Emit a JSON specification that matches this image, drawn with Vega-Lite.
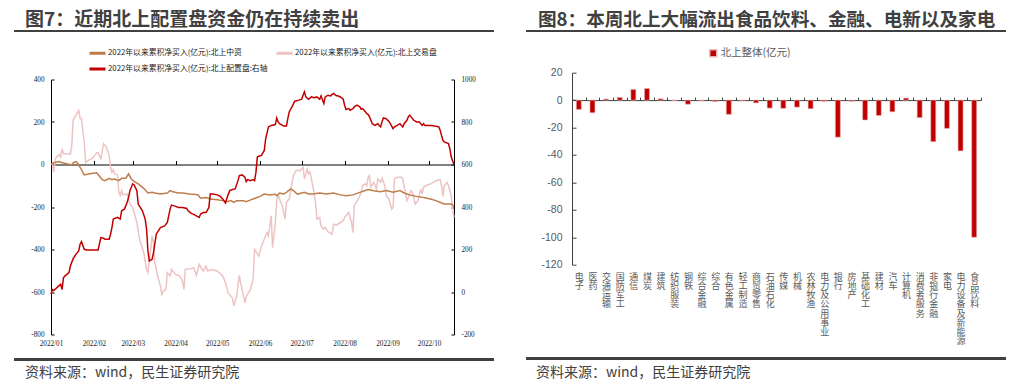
{
"$schema": "https://vega.github.io/schema/vega-lite/v6.json",
"background": "white",
"padding": {"left": 12, "top": 0, "right": 9, "bottom": 0},
"config": {"view": {"stroke": "transparent"}, "font": "Noto Sans CJK SC", "axis": {"grid": false, "domainWidth": 1, "tickWidth": 1}, "legend": {"padding": 0}},
"datasets": {
"zz": [
{"date":"2022-01-01","value":0},{"date":"2022-01-03","value":8},{"date":"2022-01-07","value":14},{"date":"2022-01-09","value":8},{"date":"2022-01-13","value":3},{"date":"2022-01-16","value":-2},{"date":"2022-01-17","value":8},{"date":"2022-01-19","value":14},{"date":"2022-01-20","value":8},{"date":"2022-01-22","value":-13},{"date":"2022-01-25","value":-49},{"date":"2022-01-29","value":-44},{"date":"2022-02-03","value":-39},{"date":"2022-02-04","value":-47},{"date":"2022-02-07","value":-71},{"date":"2022-02-09","value":-76},{"date":"2022-02-12","value":-65},{"date":"2022-02-14","value":-71},{"date":"2022-02-16","value":-68},{"date":"2022-02-19","value":-76},{"date":"2022-02-21","value":-65},{"date":"2022-02-24","value":-65},{"date":"2022-02-26","value":-44},{"date":"2022-02-28","value":-68},{"date":"2022-03-02","value":-80},{"date":"2022-03-05","value":-91},{"date":"2022-03-09","value":-112},{"date":"2022-03-12","value":-134},{"date":"2022-03-15","value":-131},{"date":"2022-03-17","value":-134},{"date":"2022-03-21","value":-139},{"date":"2022-03-26","value":-134},{"date":"2022-03-28","value":-123},{"date":"2022-03-30","value":-128},{"date":"2022-04-03","value":-134},{"date":"2022-04-06","value":-134},{"date":"2022-04-11","value":-139},{"date":"2022-04-17","value":-142},{"date":"2022-04-19","value":-159},{"date":"2022-04-23","value":-155},{"date":"2022-04-26","value":-162},{"date":"2022-05-01","value":-166},{"date":"2022-05-05","value":-170},{"date":"2022-05-08","value":-175},{"date":"2022-05-11","value":-170},{"date":"2022-05-13","value":-178},{"date":"2022-05-15","value":-170},{"date":"2022-05-20","value":-170},{"date":"2022-05-22","value":-175},{"date":"2022-05-27","value":-162},{"date":"2022-06-01","value":-150},{"date":"2022-06-04","value":-139},{"date":"2022-06-08","value":-143},{"date":"2022-06-12","value":-140},{"date":"2022-06-13","value":-147},{"date":"2022-06-15","value":-134},{"date":"2022-06-18","value":-139},{"date":"2022-06-20","value":-131},{"date":"2022-06-23","value":-115},{"date":"2022-06-25","value":-123},{"date":"2022-06-28","value":-140},{"date":"2022-07-01","value":-134},{"date":"2022-07-03","value":-131},{"date":"2022-07-06","value":-139},{"date":"2022-07-09","value":-139},{"date":"2022-07-14","value":-134},{"date":"2022-07-19","value":-139},{"date":"2022-07-24","value":-134},{"date":"2022-07-29","value":-143},{"date":"2022-08-02","value":-147},{"date":"2022-08-07","value":-143},{"date":"2022-08-12","value":-131},{"date":"2022-08-18","value":-118},{"date":"2022-08-22","value":-123},{"date":"2022-08-27","value":-128},{"date":"2022-08-31","value":-123},{"date":"2022-09-05","value":-131},{"date":"2022-09-10","value":-123},{"date":"2022-09-13","value":-134},{"date":"2022-09-17","value":-143},{"date":"2022-09-22","value":-150},{"date":"2022-09-27","value":-155},{"date":"2022-10-02","value":-162},{"date":"2022-10-06","value":-170},{"date":"2022-10-10","value":-181},{"date":"2022-10-12","value":-186},{"date":"2022-10-17","value":-186},{"date":"2022-10-19","value":-197}
],
"jy": [
{"date":"2022-01-01","value":0},{"date":"2022-01-02","value":3},{"date":"2022-01-03","value":-36},{"date":"2022-01-04","value":24},{"date":"2022-01-05","value":35},{"date":"2022-01-07","value":46},{"date":"2022-01-08","value":35},{"date":"2022-01-09","value":74},{"date":"2022-01-10","value":51},{"date":"2022-01-13","value":51},{"date":"2022-01-15","value":49},{"date":"2022-01-16","value":90},{"date":"2022-01-17","value":208},{"date":"2022-01-19","value":232},{"date":"2022-01-20","value":244},{"date":"2022-01-21","value":255},{"date":"2022-01-22","value":216},{"date":"2022-01-23","value":216},{"date":"2022-01-25","value":106},{"date":"2022-01-26","value":8},{"date":"2022-01-28","value":19},{"date":"2022-01-31","value":30},{"date":"2022-02-03","value":55},{"date":"2022-02-04","value":55},{"date":"2022-02-06","value":27},{"date":"2022-02-08","value":98},{"date":"2022-02-10","value":82},{"date":"2022-02-12","value":43},{"date":"2022-02-13","value":-13},{"date":"2022-02-14","value":-36},{"date":"2022-02-15","value":-24},{"date":"2022-02-16","value":-44},{"date":"2022-02-18","value":-49},{"date":"2022-02-19","value":-131},{"date":"2022-02-20","value":-147},{"date":"2022-02-21","value":-123},{"date":"2022-02-22","value":-143},{"date":"2022-02-25","value":-139},{"date":"2022-02-27","value":-186},{"date":"2022-03-01","value":-202},{"date":"2022-03-02","value":-225},{"date":"2022-03-04","value":-273},{"date":"2022-03-06","value":-352},{"date":"2022-03-09","value":-415},{"date":"2022-03-11","value":-494},{"date":"2022-03-12","value":-509},{"date":"2022-03-14","value":-399},{"date":"2022-03-15","value":-336},{"date":"2022-03-16","value":-367},{"date":"2022-03-17","value":-462},{"date":"2022-03-19","value":-525},{"date":"2022-03-21","value":-572},{"date":"2022-03-22","value":-612},{"date":"2022-03-23","value":-596},{"date":"2022-03-25","value":-588},{"date":"2022-03-26","value":-509},{"date":"2022-03-28","value":-525},{"date":"2022-03-29","value":-494},{"date":"2022-04-01","value":-517},{"date":"2022-04-04","value":-525},{"date":"2022-04-06","value":-549},{"date":"2022-04-07","value":-588},{"date":"2022-04-08","value":-494},{"date":"2022-04-12","value":-490},{"date":"2022-04-14","value":-486},{"date":"2022-04-16","value":-522},{"date":"2022-04-18","value":-470},{"date":"2022-04-20","value":-494},{"date":"2022-04-21","value":-501},{"date":"2022-04-23","value":-478},{"date":"2022-04-24","value":-501},{"date":"2022-04-27","value":-494},{"date":"2022-05-01","value":-501},{"date":"2022-05-05","value":-525},{"date":"2022-05-07","value":-557},{"date":"2022-05-09","value":-604},{"date":"2022-05-12","value":-628},{"date":"2022-05-13","value":-667},{"date":"2022-05-15","value":-620},{"date":"2022-05-17","value":-522},{"date":"2022-05-18","value":-557},{"date":"2022-05-21","value":-651},{"date":"2022-05-22","value":-620},{"date":"2022-05-25","value":-588},{"date":"2022-05-27","value":-538},{"date":"2022-05-28","value":-399},{"date":"2022-05-31","value":-430},{"date":"2022-06-02","value":-383},{"date":"2022-06-04","value":-352},{"date":"2022-06-06","value":-320},{"date":"2022-06-07","value":-336},{"date":"2022-06-09","value":-241},{"date":"2022-06-10","value":-391},{"date":"2022-06-12","value":-273},{"date":"2022-06-13","value":-170},{"date":"2022-06-14","value":-139},{"date":"2022-06-15","value":-162},{"date":"2022-06-17","value":-194},{"date":"2022-06-19","value":-257},{"date":"2022-06-20","value":-178},{"date":"2022-06-22","value":-162},{"date":"2022-06-25","value":-52},{"date":"2022-06-27","value":-28},{"date":"2022-06-30","value":-28},{"date":"2022-07-02","value":-13},{"date":"2022-07-03","value":-68},{"date":"2022-07-05","value":-20},{"date":"2022-07-06","value":-44},{"date":"2022-07-07","value":-36},{"date":"2022-07-09","value":-99},{"date":"2022-07-11","value":-178},{"date":"2022-07-12","value":-257},{"date":"2022-07-14","value":-249},{"date":"2022-07-15","value":-289},{"date":"2022-07-17","value":-304},{"date":"2022-07-18","value":-296},{"date":"2022-07-20","value":-317},{"date":"2022-07-21","value":-320},{"date":"2022-07-23","value":-328},{"date":"2022-07-24","value":-281},{"date":"2022-07-26","value":-285},{"date":"2022-07-29","value":-273},{"date":"2022-07-31","value":-265},{"date":"2022-08-01","value":-249},{"date":"2022-08-04","value":-225},{"date":"2022-08-06","value":-273},{"date":"2022-08-07","value":-320},{"date":"2022-08-08","value":-194},{"date":"2022-08-11","value":-162},{"date":"2022-08-13","value":-131},{"date":"2022-08-14","value":-99},{"date":"2022-08-16","value":-91},{"date":"2022-08-17","value":-99},{"date":"2022-08-18","value":-60},{"date":"2022-08-19","value":-52},{"date":"2022-08-20","value":-107},{"date":"2022-08-22","value":-84},{"date":"2022-08-23","value":-99},{"date":"2022-08-24","value":-115},{"date":"2022-08-25","value":-68},{"date":"2022-08-27","value":-84},{"date":"2022-08-28","value":-65},{"date":"2022-08-30","value":-99},{"date":"2022-08-31","value":-147},{"date":"2022-09-02","value":-162},{"date":"2022-09-03","value":-186},{"date":"2022-09-04","value":-210},{"date":"2022-09-05","value":-202},{"date":"2022-09-06","value":-68},{"date":"2022-09-08","value":-60},{"date":"2022-09-09","value":-60},{"date":"2022-09-11","value":-60},{"date":"2022-09-12","value":-68},{"date":"2022-09-15","value":-170},{"date":"2022-09-16","value":-155},{"date":"2022-09-18","value":-123},{"date":"2022-09-19","value":-131},{"date":"2022-09-21","value":-186},{"date":"2022-09-23","value":-170},{"date":"2022-09-25","value":-115},{"date":"2022-09-26","value":-139},{"date":"2022-09-27","value":-107},{"date":"2022-09-29","value":-99},{"date":"2022-10-02","value":-91},{"date":"2022-10-04","value":-84},{"date":"2022-10-06","value":-76},{"date":"2022-10-09","value":-71},{"date":"2022-10-10","value":-99},{"date":"2022-10-11","value":-150},{"date":"2022-10-12","value":-99},{"date":"2022-10-14","value":-84},{"date":"2022-10-15","value":-99},{"date":"2022-10-17","value":-147},{"date":"2022-10-18","value":-210},{"date":"2022-10-19","value":-249}
],
"pz": [
{"date":"2022-01-01","value":-10},{"date":"2022-01-02","value":12},{"date":"2022-01-03","value":7},{"date":"2022-01-07","value":31},{"date":"2022-01-08","value":36},{"date":"2022-01-09","value":12},{"date":"2022-01-10","value":67},{"date":"2022-01-11","value":75},{"date":"2022-01-14","value":91},{"date":"2022-01-15","value":122},{"date":"2022-01-17","value":157},{"date":"2022-01-19","value":177},{"date":"2022-01-21","value":193},{"date":"2022-01-22","value":225},{"date":"2022-01-23","value":237},{"date":"2022-01-25","value":201},{"date":"2022-01-27","value":198},{"date":"2022-02-04","value":198},{"date":"2022-02-06","value":256},{"date":"2022-02-08","value":253},{"date":"2022-02-09","value":248},{"date":"2022-02-12","value":248},{"date":"2022-02-13","value":272},{"date":"2022-02-14","value":303},{"date":"2022-02-15","value":343},{"date":"2022-02-18","value":351},{"date":"2022-02-20","value":343},{"date":"2022-02-21","value":382},{"date":"2022-02-23","value":390},{"date":"2022-02-25","value":422},{"date":"2022-02-26","value":445},{"date":"2022-02-27","value":477},{"date":"2022-03-01","value":509},{"date":"2022-03-02","value":504},{"date":"2022-03-04","value":477},{"date":"2022-03-05","value":414},{"date":"2022-03-08","value":382},{"date":"2022-03-10","value":343},{"date":"2022-03-11","value":296},{"date":"2022-03-12","value":193},{"date":"2022-03-13","value":146},{"date":"2022-03-15","value":154},{"date":"2022-03-16","value":185},{"date":"2022-03-18","value":272},{"date":"2022-03-21","value":303},{"date":"2022-03-24","value":311},{"date":"2022-03-26","value":327},{"date":"2022-03-28","value":390},{"date":"2022-03-29","value":409},{"date":"2022-04-01","value":403},{"date":"2022-04-03","value":398},{"date":"2022-04-06","value":398},{"date":"2022-04-09","value":393},{"date":"2022-04-10","value":382},{"date":"2022-04-12","value":371},{"date":"2022-04-15","value":362},{"date":"2022-04-18","value":351},{"date":"2022-04-19","value":367},{"date":"2022-04-21","value":374},{"date":"2022-04-23","value":374},{"date":"2022-04-25","value":398},{"date":"2022-04-26","value":461},{"date":"2022-04-28","value":461},{"date":"2022-05-01","value":457},{"date":"2022-05-03","value":451},{"date":"2022-05-05","value":438},{"date":"2022-05-07","value":419},{"date":"2022-05-08","value":441},{"date":"2022-05-10","value":477},{"date":"2022-05-12","value":482},{"date":"2022-05-14","value":485},{"date":"2022-05-16","value":524},{"date":"2022-05-17","value":548},{"date":"2022-05-19","value":551},{"date":"2022-05-21","value":540},{"date":"2022-05-22","value":520},{"date":"2022-05-23","value":529},{"date":"2022-05-25","value":524},{"date":"2022-05-27","value":529},{"date":"2022-05-28","value":524},{"date":"2022-05-29","value":564},{"date":"2022-05-30","value":635},{"date":"2022-05-31","value":639},{"date":"2022-06-02","value":643},{"date":"2022-06-04","value":666},{"date":"2022-06-05","value":721},{"date":"2022-06-07","value":777},{"date":"2022-06-09","value":784},{"date":"2022-06-12","value":788},{"date":"2022-06-13","value":819},{"date":"2022-06-14","value":800},{"date":"2022-06-15","value":792},{"date":"2022-06-18","value":781},{"date":"2022-06-20","value":781},{"date":"2022-06-21","value":816},{"date":"2022-06-22","value":847},{"date":"2022-06-24","value":871},{"date":"2022-06-26","value":898},{"date":"2022-06-29","value":903},{"date":"2022-07-01","value":907},{"date":"2022-07-02","value":926},{"date":"2022-07-03","value":942},{"date":"2022-07-04","value":918},{"date":"2022-07-06","value":907},{"date":"2022-07-08","value":918},{"date":"2022-07-10","value":914},{"date":"2022-07-12","value":918},{"date":"2022-07-14","value":907},{"date":"2022-07-15","value":923},{"date":"2022-07-17","value":887},{"date":"2022-07-18","value":918},{"date":"2022-07-20","value":926},{"date":"2022-07-22","value":923},{"date":"2022-07-23","value":930},{"date":"2022-07-24","value":934},{"date":"2022-07-26","value":923},{"date":"2022-07-27","value":923},{"date":"2022-07-29","value":918},{"date":"2022-07-31","value":907},{"date":"2022-08-01","value":879},{"date":"2022-08-02","value":859},{"date":"2022-08-04","value":863},{"date":"2022-08-05","value":855},{"date":"2022-08-07","value":863},{"date":"2022-08-08","value":871},{"date":"2022-08-10","value":879},{"date":"2022-08-12","value":871},{"date":"2022-08-13","value":860},{"date":"2022-08-14","value":863},{"date":"2022-08-16","value":848},{"date":"2022-08-17","value":840},{"date":"2022-08-18","value":835},{"date":"2022-08-19","value":824},{"date":"2022-08-20","value":808},{"date":"2022-08-21","value":792},{"date":"2022-08-23","value":784},{"date":"2022-08-25","value":792},{"date":"2022-08-26","value":784},{"date":"2022-08-27","value":777},{"date":"2022-08-28","value":800},{"date":"2022-08-29","value":819},{"date":"2022-08-31","value":816},{"date":"2022-09-02","value":803},{"date":"2022-09-03","value":792},{"date":"2022-09-04","value":781},{"date":"2022-09-05","value":769},{"date":"2022-09-06","value":777},{"date":"2022-09-08","value":784},{"date":"2022-09-10","value":792},{"date":"2022-09-11","value":784},{"date":"2022-09-12","value":777},{"date":"2022-09-13","value":792},{"date":"2022-09-15","value":808},{"date":"2022-09-16","value":824},{"date":"2022-09-17","value":832},{"date":"2022-09-18","value":824},{"date":"2022-09-20","value":808},{"date":"2022-09-22","value":800},{"date":"2022-09-24","value":800},{"date":"2022-09-26","value":784},{"date":"2022-09-27","value":792},{"date":"2022-09-28","value":784},{"date":"2022-09-30","value":784},{"date":"2022-10-03","value":784},{"date":"2022-10-05","value":781},{"date":"2022-10-08","value":777},{"date":"2022-10-09","value":761},{"date":"2022-10-10","value":737},{"date":"2022-10-11","value":714},{"date":"2022-10-12","value":706},{"date":"2022-10-15","value":698},{"date":"2022-10-16","value":674},{"date":"2022-10-17","value":635},{"date":"2022-10-19","value":600}
],
"bars": [
{"industry":"电子","value":-6.8},{"industry":"医药","value":-9.2},{"industry":"交通运输","value":0.8},{"industry":"国防军工","value":2},{"industry":"通信","value":7.8},{"industry":"煤炭","value":8.5},{"industry":"建筑","value":1},{"industry":"纺织服装","value":-0.2},{"industry":"钢铁","value":-3},{"industry":"综合金融","value":-0.5},{"industry":"综合","value":-1},{"industry":"有色金属","value":-10.4},{"industry":"轻工制造","value":-0.6},{"industry":"商贸零售","value":-2},{"industry":"石油石化","value":-5.8},{"industry":"传媒","value":-6},{"industry":"机械","value":-5.1},{"industry":"农林牧渔","value":-6.3},{"industry":"电力及公用事业","value":-0.8},{"industry":"银行","value":-27},{"industry":"房地产","value":-0.8},{"industry":"基础化工","value":-14.5},{"industry":"建材","value":-11.2},{"industry":"汽车","value":-8.5},{"industry":"计算机","value":1.5},{"industry":"消费者服务","value":-12.8},{"industry":"非银行金融","value":-30.3},{"industry":"家电","value":-20.6},{"industry":"电力设备及新能源","value":-37},{"industry":"食品饮料","value":-100}
]
},
"hconcat": [
{
"vconcat": [
{
"vconcat": [
{
"width": 480, "height": 30,
"data": {"values": [{"title": "图7：近期北上配置盘资金仍在持续卖出"}]},
"layer": [
{"mark": {"type": "rule", "color": "#404040", "strokeWidth": 2},
 "encoding": {"x": {"datum": 0, "type": "quantitative", "scale": {"domain": [0, 1]}, "axis": null}, "x2": {"datum": 1}, "y": {"datum": 0, "type": "quantitative", "scale": {"domain": [0, 1]}, "axis": null}}},
{"mark": {"type": "text", "align": "left", "baseline": "alphabetic", "dx": 11, "dy": -5, "fontSize": 19, "fontWeight": "bold", "color": "#404040", "font": "Noto Sans CJK SC"},
 "encoding": {"x": {"datum": 0, "type": "quantitative"}, "y": {"datum": 0, "type": "quantitative"}, "text": {"field": "title"}}}
]
},
{
"hconcat": [
{"width": 1, "height": 1, "data": {"values": []}, "mark": "point"},
{
"width": 403, "height": 255,
"encoding": {
 "x": {"field": "date", "type": "temporal",
  "scale": {"type": "utc", "domain": [{"year": 2022, "month": 1, "date": 1, "utc": true}, {"year": 2022, "month": 10, "date": 19, "utc": true}], "nice": false},
  "axis": {"orient": "bottom", "offset": -170, "title": null, "domainColor": "#000000", "tickColor": "#000000", "tickSize": -4, "labelPadding": 179.4, "labelFont": "Liberation Serif", "labelFontSize": 7.2, "labelColor": "#1a1a1a", "labelFlush": false, "tickCount": {"interval": "month", "step": 1}, "labelExpr": "utcFormat(datum.value, '%Y/%m')", "grid": false}}
},
"layer": [
{
 "layer": [
  {"data": {"name": "jy"}, "mark": {"type": "line", "strokeWidth": 1.5},
   "encoding": {"color": {"datum": "2022年以来累积净买入(亿元):北上交易盘",
     "scale": {"domain": ["2022年以来累积净买入(亿元):北上中资", "2022年以来累积净买入(亿元):北上配置盘:右轴", "2022年以来累积净买入(亿元):北上交易盘"], "range": ["#BE7D4B", "#C00000", "#EDC3C3"]},
     "legend": {"orient": "none", "legendX": 37, "legendY": -36, "title": null, "columns": 2, "columnPadding": 2, "rowPadding": 0, "symbolType": "stroke", "symbolSize": 256, "symbolStrokeWidth": 3, "labelFont": "Noto Sans CJK SC", "labelFontSize": 7.8, "labelColor": "#1a1a1a", "labelOffset": 1, "labelLimit": 400, "padding": 0}}}},
  {"data": {"name": "zz"}, "mark": {"type": "line", "strokeWidth": 1.5},
   "encoding": {"color": {"datum": "2022年以来累积净买入(亿元):北上中资"}}}
 ],
 "encoding": {"y": {"field": "value", "type": "quantitative", "scale": {"domain": [-800, 400], "nice": false, "zero": false},
   "axis": {"orient": "left", "values": [400, 200, 0, -200, -400, -600, -800], "labelExpr": "'' + datum.value", "title": null, "domainColor": "#000000", "tickColor": "#000000", "tickSize": -3, "labelPadding": 10, "labelFont": "Liberation Serif", "labelFontSize": 7.2, "labelColor": "#1a1a1a", "minExtent": 35, "grid": false}}}
},
{"data": {"name": "pz"}, "mark": {"type": "line", "strokeWidth": 1.5},
 "encoding": {"y": {"field": "value", "type": "quantitative", "scale": {"domain": [-200, 1000], "nice": false, "zero": false},
   "axis": {"orient": "right", "values": [1000, 800, 600, 400, 200, 0, -200], "labelExpr": "'' + datum.value", "title": null, "domainColor": "#000000", "tickColor": "#000000", "tickSize": -3, "labelPadding": 10, "labelFont": "Liberation Serif", "labelFontSize": 7.2, "labelColor": "#1a1a1a", "grid": false}},
  "color": {"datum": "2022年以来累积净买入(亿元):北上配置盘:右轴"}}}
],
"resolve": {"scale": {"y": "independent"}}
}
],
"spacing": 0,
"resolve": {"scale": {"color": "independent"}, "legend": {"color": "independent"}}
}
],
"spacing": 9.5,
"resolve": {"scale": {"color": "independent"}, "legend": {"color": "independent"}}
},
{
"width": 480, "height": 24,
"data": {"values": [{"source": "资料来源：wind，民生证券研究院"}]},
"layer": [
{"mark": {"type": "rule", "color": "#404040", "strokeWidth": 3},
 "encoding": {"x": {"datum": 0, "type": "quantitative", "scale": {"domain": [0, 1]}, "axis": null}, "x2": {"datum": 1}, "y": {"datum": 1, "type": "quantitative", "scale": {"domain": [0, 1]}, "axis": null}}},
{"mark": {"type": "text", "align": "left", "baseline": "middle", "dx": 11, "dy": 14, "fontSize": 14, "color": "#404040"},
 "encoding": {"x": {"datum": 0, "type": "quantitative"}, "y": {"datum": 1, "type": "quantitative"}, "text": {"field": "source"}}}
]
}
],
"spacing": 9.4,
"resolve": {"scale": {"color": "independent"}, "legend": {"color": "independent"}}
},
{
"vconcat": [
{
"vconcat": [
{
"width": 480, "height": 30,
"data": {"values": [{"title": "图8：本周北上大幅流出食品饮料、金融、电新以及家电"}]},
"layer": [
{"mark": {"type": "rule", "color": "#404040", "strokeWidth": 2},
 "encoding": {"x": {"datum": 0, "type": "quantitative", "scale": {"domain": [0, 1]}, "axis": null}, "x2": {"datum": 1}, "y": {"datum": 0, "type": "quantitative", "scale": {"domain": [0, 1]}, "axis": null}}},
{"mark": {"type": "text", "align": "left", "baseline": "alphabetic", "dx": 12, "dy": -5, "fontSize": 18.6, "fontWeight": "bold", "color": "#404040", "font": "Noto Sans CJK SC"},
 "encoding": {"x": {"datum": 0, "type": "quantitative"}, "y": {"datum": 0, "type": "quantitative"}, "text": {"field": "title"}}}
]
},
{
"hconcat": [
{"width": 1, "height": 1, "data": {"values": []}, "mark": "point"},
{
"width": 409, "height": 192,
"data": {"name": "bars"},
"mark": {"type": "bar", "size": 5, "stroke": "#EBB5B5", "strokeWidth": 0.6},
"encoding": {
 "x": {"field": "industry", "type": "nominal", "sort": null, "scale": {"paddingInner": 0, "paddingOuter": 0},
  "axis": {"orient": "bottom", "offset": -164.6, "tickBand": "extent", "title": null, "domainColor": "#404040", "tickColor": "#404040", "tickSize": -3, "labelPadding": 175.3, "labelAngle": 0, "labelAlign": "center", "labelBaseline": "top", "labelExpr": "split(datum.label, '')", "labelLineHeight": 9.2, "labelFontSize": 9, "labelColor": "#595959", "labelOverlap": false, "labelLimit": 1000}},
 "y": {"field": "value", "type": "quantitative", "scale": {"domain": [-120, 20], "nice": false},
  "axis": {"values": [20, 0, -20, -40, -60, -80, -100, -120], "labelExpr": "'' + datum.value", "title": null, "domainColor": "#404040", "tickColor": "#404040", "tickSize": -4, "labelPadding": 14, "labelFont": "Liberation Sans", "labelFontSize": 10.5, "labelColor": "#595959", "minExtent": 44, "grid": false}},
 "color": {"datum": "北上整体(亿元)", "scale": {"range": ["#C00000"]},
  "legend": {"orient": "none", "legendX": 136, "legendY": -24.6, "title": null, "symbolType": "square", "symbolSize": 49, "labelFontSize": 10.5, "labelColor": "#595959", "labelOffset": 2, "padding": 0}}
}
}
],
"spacing": 0,
"resolve": {"scale": {"color": "independent"}, "legend": {"color": "independent"}}
}
],
"spacing": 13.7,
"resolve": {"scale": {"color": "independent"}, "legend": {"color": "independent"}}
},
{
"width": 480, "height": 24,
"data": {"values": [{"source": "资料来源：wind，民生证券研究院"}]},
"layer": [
{"mark": {"type": "rule", "color": "#404040", "strokeWidth": 3},
 "encoding": {"x": {"datum": 0, "type": "quantitative", "scale": {"domain": [0, 1]}, "axis": null}, "x2": {"datum": 1}, "y": {"datum": 1, "type": "quantitative", "scale": {"domain": [0, 1]}, "axis": null}}},
{"mark": {"type": "text", "align": "left", "baseline": "middle", "dx": 10, "dy": 14, "fontSize": 14, "color": "#404040"},
 "encoding": {"x": {"datum": 0, "type": "quantitative"}, "y": {"datum": 1, "type": "quantitative"}, "text": {"field": "source"}}}
]
}
],
"spacing": 9.5,
"resolve": {"scale": {"color": "independent"}, "legend": {"color": "independent"}}
}
],
"spacing": 28,
"resolve": {"scale": {"color": "independent"}, "legend": {"color": "independent"}}
}
